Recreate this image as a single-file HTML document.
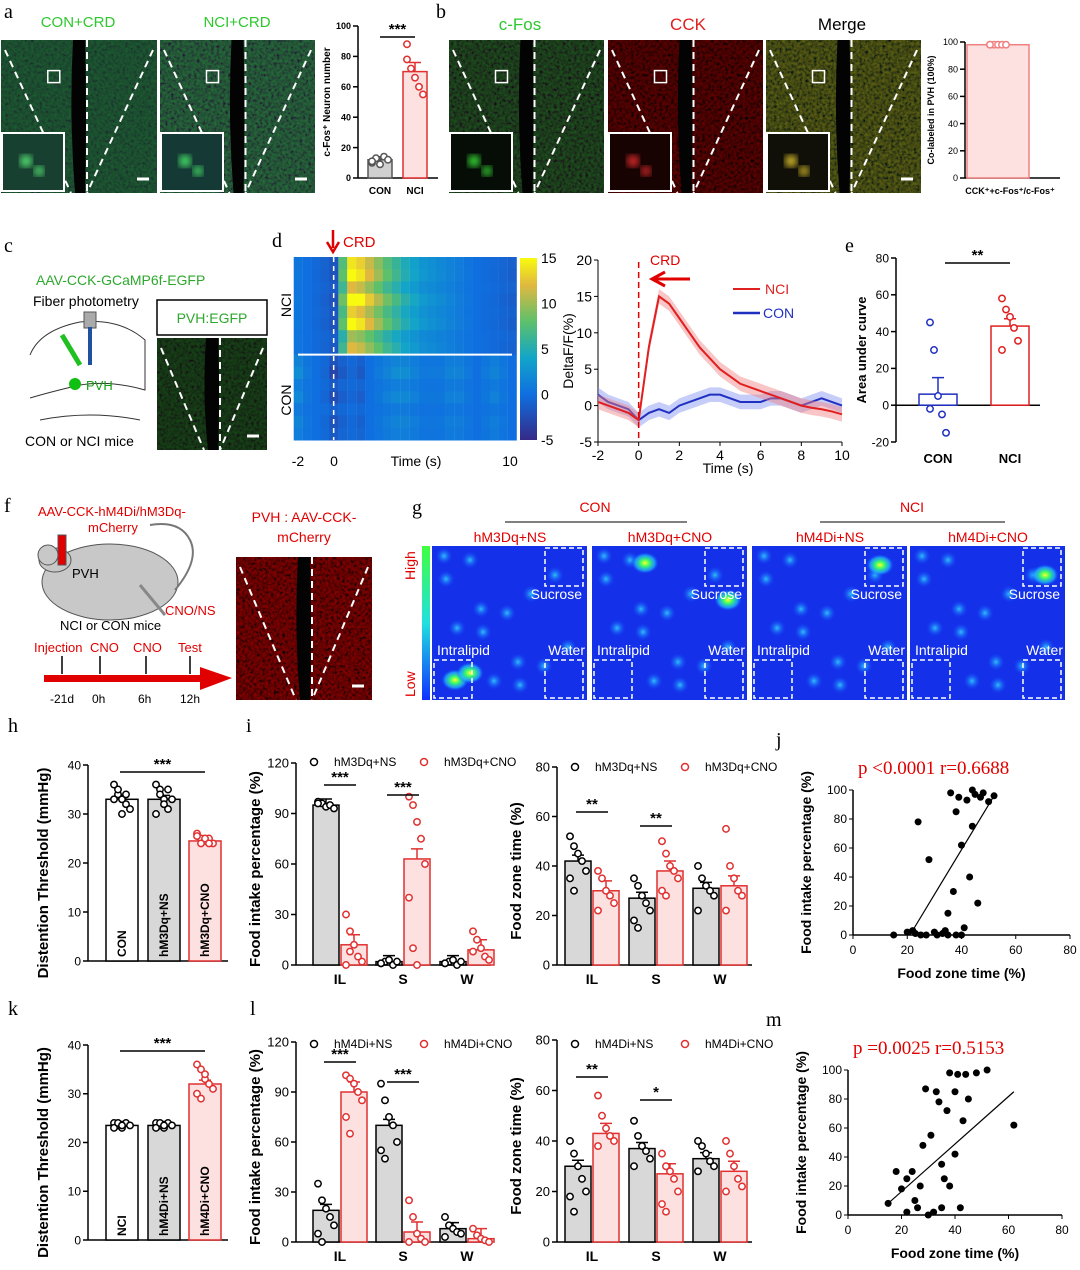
<!DOCTYPE html>
<html><head><meta charset="utf-8"><style>
html,body{margin:0;padding:0;background:#fff;}
svg{display:block;font-family:"Liberation Sans",sans-serif;}
.pl{font-family:"Liberation Serif",serif;font-size:20px;fill:#000;}
</style></head><body>
<svg id="fig" width="1080" height="1270" viewBox="0 0 1080 1270" xmlns="http://www.w3.org/2000/svg">
<defs>
<filter id="nG" x="0" y="0" width="1" height="1"><feTurbulence type="fractalNoise" baseFrequency="0.35" numOctaves="2" seed="3"/><feColorMatrix values="0 0 0 0 0.05  0 0 0 0.9 -0.2  0 0 0 0 0.05  0 0 0 0 1"/></filter>
<filter id="nR" x="0" y="0" width="1" height="1"><feTurbulence type="fractalNoise" baseFrequency="0.35" numOctaves="2" seed="5"/><feColorMatrix values="0 0 0 1.0 -0.25  0 0 0 0 0  0 0 0 0 0  0 0 0 0 1"/></filter>
<filter id="nY" x="0" y="0" width="1" height="1"><feTurbulence type="fractalNoise" baseFrequency="0.35" numOctaves="2" seed="7"/><feColorMatrix values="0 0 0 0.9 -0.2  0 0 0 0.9 -0.15  0 0 0 0 0.02  0 0 0 0 1"/></filter>
<filter id="blur4"><feGaussianBlur stdDeviation="4"/></filter>
<radialGradient id="blob"><stop offset="0" stop-color="#ffff30"/><stop offset="0.3" stop-color="#40ff60"/><stop offset="0.7" stop-color="#20c0ff" stop-opacity="0.7"/><stop offset="1" stop-color="#1040ff" stop-opacity="0"/></radialGradient>
<radialGradient id="blobs"><stop offset="0" stop-color="#30d0ff" stop-opacity="0.9"/><stop offset="1" stop-color="#1040ff" stop-opacity="0"/></radialGradient>
<linearGradient id="cbd" x1="0" y1="1" x2="0" y2="0"><stop offset="0" stop-color="#352a87"/><stop offset="0.25" stop-color="#0f6fe0"/><stop offset="0.45" stop-color="#12a5c9"/><stop offset="0.65" stop-color="#5dc06b"/><stop offset="0.85" stop-color="#e0b840"/><stop offset="1" stop-color="#f9fb0e"/></linearGradient>
<linearGradient id="cbg" x1="0" y1="1" x2="0" y2="0"><stop offset="0" stop-color="#1030ff"/><stop offset="0.5" stop-color="#20e0e0"/><stop offset="1" stop-color="#40ff40"/></linearGradient>
</defs>

<text class="pl" x="4" y="18">a</text>
<text x="78" y="27" font-size="15" fill="#2ec82e" text-anchor="middle">CON+CRD</text>
<text x="237" y="27" font-size="15" fill="#2ec82e" text-anchor="middle">NCI+CRD</text>
<g id="micro"></g>
<text class="pl" x="436" y="18">b</text>
<text x="520" y="30" font-size="17" fill="#2ec82e" text-anchor="middle">c-Fos</text>
<text x="688" y="30" font-size="17" fill="#e02020" text-anchor="middle">CCK</text>
<text x="842" y="30" font-size="17" fill="#000" text-anchor="middle">Merge</text>

<text class="pl" x="4" y="252">c</text>
<text x="36" y="285" font-size="14" fill="#2ea82e">AAV-CCK-GCaMP6f-EGFP</text>
<text x="33" y="306" font-size="14" fill="#000">Fiber photometry</text>
<g>
<path d="M30,355 Q40,330 80,322 Q120,318 145,340 L145,390 Q110,380 80,385 Q50,392 30,398" fill="none" stroke="#333" stroke-width="1"/>
<rect x="84" y="312" width="12" height="16" fill="#aaa" stroke="#555"/>
<rect x="88" y="327" width="4" height="38" fill="#2050a0"/>
<line x1="62" y1="335" x2="80" y2="365" stroke="#20c020" stroke-width="5"/>
<circle cx="75" cy="384" r="6" fill="#10c010"/>
<text x="86" y="390" font-size="13" fill="#10a010">PVH</text>
<path d="M40,420 Q90,410 140,420" fill="none" stroke="#333"/>
</g>
<text x="25" y="446" font-size="14" fill="#000">CON or NCI mice</text>
<rect x="157" y="300" width="110" height="35" fill="#fff" stroke="#000" stroke-width="1.5"/>
<text x="212" y="323" font-size="14" fill="#2ea82e" text-anchor="middle">PVH:EGFP</text>

<text class="pl" x="272" y="247">d</text>
<path d="M333,230 L333,248 M327,242 L333,252 L339,242" stroke="#e00000" stroke-width="2.5" fill="none"/>
<text x="343" y="247" font-size="15" fill="#e00000">CRD</text>
<g id="heat"></g>
<g id="line"></g>
<text class="pl" x="845" y="252">e</text>
<g id="chE"></g>

<text class="pl" x="4" y="512">f</text>
<text x="38" y="516" font-size="13" fill="#e00000">AAV-CCK-hM4Di/hM3Dq-</text>
<text x="88" y="532" font-size="13" fill="#e00000">mCherry</text>
<g>
<ellipse cx="110" cy="582" rx="68" ry="38" fill="#c8c8c8" stroke="#555"/>
<ellipse cx="55" cy="560" rx="16" ry="12" fill="#c8c8c8" stroke="#555"/>
<circle cx="48" cy="555" r="10" fill="#c8c8c8" stroke="#555"/>
<rect x="58" y="535" width="8" height="30" fill="#e00000" stroke="#555"/>
<path d="M175,590 Q200,560 190,540 Q180,520 150,525" fill="none" stroke="#777" stroke-width="2"/>
<line x1="140" y1="585" x2="165" y2="615" stroke="#888" stroke-width="3"/>
<text x="72" y="578" font-size="13">PVH</text>
</g>
<text x="165" y="615" font-size="13" fill="#e00000">CNO/NS</text>
<text x="60" y="630" font-size="13" fill="#000">NCI or CON mice</text>
<g>
<rect x="44" y="675" width="160" height="7" fill="#e00000"/>
<polygon points="200,667 232,678 200,690" fill="#e00000"/>
<text x="34" y="652" font-size="13" fill="#e00000">Injection</text>
<text x="90" y="652" font-size="13" fill="#e00000">CNO</text>
<text x="133" y="652" font-size="13" fill="#e00000">CNO</text>
<text x="178" y="652" font-size="13" fill="#e00000">Test</text>
<path d="M62,656 v18 M100,656 v18 M146,656 v18 M190,656 v18" stroke="#000" stroke-width="1.5"/>
<text x="50" y="703" font-size="12">-21d</text><text x="92" y="703" font-size="12">0h</text>
<text x="138" y="703" font-size="12">6h</text><text x="180" y="703" font-size="12">12h</text>
</g>
<text x="304" y="522" font-size="14" fill="#e00000" text-anchor="middle">PVH : AAV-CCK-</text>
<text x="304" y="542" font-size="14" fill="#e00000" text-anchor="middle">mCherry</text>

<text class="pl" x="412" y="514">g</text>
<text x="595" y="512" font-size="14" fill="#e00000" text-anchor="middle">CON</text>
<line x1="505" y1="522" x2="687" y2="522" stroke="#000"/>
<text x="912" y="512" font-size="14" fill="#e00000" text-anchor="middle">NCI</text>
<line x1="820" y1="522" x2="1005" y2="522" stroke="#000"/>
<rect x="422" y="546" width="8" height="154" fill="url(#cbg)"/>
<text transform="translate(415,580) rotate(-90)" font-size="14" fill="#e00000">High</text>
<text transform="translate(415,697) rotate(-90)" font-size="14" fill="#e00000">Low</text>
<g id="occ"></g>

<text class="pl" x="8" y="732">h</text>
<text class="pl" x="246" y="732">i</text>
<text class="pl" x="776" y="746">j</text>
<text class="pl" x="8" y="1015">k</text>
<text class="pl" x="250" y="1015">l</text>
<text class="pl" x="766" y="1026">m</text>
<g id="charts"></g>
</svg>

<script>
const aCats = ['CON','NCI'];
const aVals = [12, 70];
const aErr = [2, 6];
const aPts = [[10,13,9,14,12,11],[88,72,66,60,55,78]];
const bVals = [98];
const bPts = [[98,98,98,98,98,98]];
const eCats = ['CON','NCI'];
const eVals = [6, 43];
const eErr = [9, 4];
const ePts = [[45,30,5,-5,-15,-2],[58,52,48,42,35,30]];
const traceT = [-2,-1.5,-1,-0.5,0,0.5,1,1.5,2,2.5,3,3.5,4,4.5,5,5.5,6,6.5,7,7.5,8,8.5,9,9.5,10];
const nciMean = [0.5,0,-0.5,-1,-2,8,15,14,12,10,8,6.5,5,4,3,2.5,2,1.5,1,0.5,0,-0.3,-0.5,-0.8,-1.2];
const conMean = [1.5,0.5,0,-0.5,-2,-1,-0.5,-1,0,0.5,1,1.5,1.5,1,0.5,0.5,0.5,1,1,0.5,0,0.5,1,0.5,0];
const nciRowPeak = [14,15,12,16,13,15,10,12];
const conRowDip = [-2,-3,-1.5,-2.5,-1,-2,-1.5];
const hCats = ['CON','hM3Dq+NS','hM3Dq+CNO'];
const hVals = [33, 33, 24.5];
const hPts = [[36,34,33,32,31,33,35,30,34],[36,35,33,31,33,30,34,32,35],[26,25,24.5,25,24,25.5,24,25,24]];
const kCats = ['NCI','hM4Di+NS','hM4Di+CNO'];
const kVals = [23.5, 23.5, 32];
const kPts = [[24,23.5,23,24,23.5,23,24,23.5],[24,23.5,23,24,23.5,23,24,23.5],[36,35,33,32,31,30,29,34]];
const groups = ['IL','S','W'];
const iIntakeNS = [95, 2, 2];
const iIntakeCNO = [12, 63, 9];
const iZoneNS = [42, 27, 31];
const iZoneCNO = [30, 38, 32];
const lIntakeNS = [19, 70, 8];
const lIntakeCNO = [90, 6, 2];
const lZoneNS = [30, 37, 33];
const lZoneCNO = [43, 27, 28];
const iIntakePtsNS = [[97,96,94,95,93,96],[1,2,3,0,2,1],[1,2,3,0,2,1]];
const iIntakePtsCNO = [[30,20,12,5,2,0,8],[100,95,85,75,60,40,10,0],[20,15,10,5,3,8]];
const iZonePtsNS = [[52,48,45,42,38,35,30],[35,32,28,25,22,18,15],[40,35,32,30,28,22]];
const iZonePtsCNO = [[38,35,30,28,25,22],[50,45,40,38,35,30,28],[55,40,35,30,28,22]];
const lIntakePtsNS = [[35,25,20,15,10,5,0],[95,85,75,70,60,55,50],[15,10,8,6,5,3]];
const lIntakePtsCNO = [[100,98,95,90,85,75,65],[25,15,5,2,0,0],[8,4,2,1,0]];
const lZonePtsNS = [[40,35,30,25,20,18,12],[48,42,38,36,33,30],[40,38,35,32,30,28]];
const lZonePtsCNO = [[58,50,45,42,40,38],[35,30,28,25,20,15,12],[40,35,30,25,22,20]];
const jX = [15,20,22,23,25,24,27,28,30,31,33,34,35,36,37,38,39,40,41,42,43,44,45,46,47,48,50,52,44,40,38,35];
const jY = [0,2,3,1,0,78,0,52,2,0,1,3,15,98,30,85,95,62,5,93,40,100,97,22,95,98,92,96,75,0,0,0];
const jFitX = [21, 52];
const jFitY = [0, 96];
const mX = [15,18,20,22,24,25,27,28,29,30,31,32,33,34,35,35,36,37,38,38,40,40,41,42,43,44,45,48,52,62,22,26];
const mY = [8,30,18,2,30,10,20,48,87,0,55,2,85,78,5,35,25,72,20,98,42,85,97,5,65,97,80,98,100,62,25,5];
const mFitX = [15, 62];
const mFitY = [8, 85];

const NS='http://www.w3.org/2000/svg';
function mk(tag, attrs, parent){const e=document.createElementNS(NS,tag);for(const k in attrs)e.setAttribute(k,attrs[k]);parent.appendChild(e);return e;}
function txt(s, attrs, parent){const e=mk('text',attrs,parent);e.textContent=s;return e;}
function lin(v0,v1,p0,p1){return v=>p0+(v-v0)/(v1-v0)*(p1-p0);}

function yAxis(g, x, sy, ticks, fs, bold){
  const a=mk('line',{x1:x,y1:sy(ticks[ticks.length-1]),x2:x,y2:sy(ticks[0]),stroke:'#000','stroke-width':1.5},g);
  
  
  ticks.forEach(t=>{mk('line',{x1:x-5,y1:sy(t),x2:x,y2:sy(t),stroke:'#000','stroke-width':1.5},g);
    const l=txt(String(t),{x:x-7,y:sy(t)+fs*0.36,'font-size':fs,'text-anchor':'end','font-weight':bold?'bold':'normal'},g);
    
    });
}
function yTitle(g, s, x, y, fs){const t=txt(s,{transform:`translate(${x},${y}) rotate(-90)`,'font-size':fs,'text-anchor':'middle','font-weight':'bold'},g);
  
  }
function drawBar(g, cx, w, val, sy, fill, stroke, name){
  const y0=sy(0), y1=sy(val);
  const r=mk('rect',{x:cx-w/2,y:Math.min(y0,y1),width:w,height:Math.abs(y0-y1),fill:fill,stroke:stroke,'stroke-width':1.5},g);
  
  
}
function drawErr(g, cx, val, err, sy, col){
  mk('path',{d:`M${cx},${sy(val)} V${sy(val+err)} M${cx-6},${sy(val+err)} H${cx+6}`,stroke:col,'stroke-width':1.5,fill:'none'},g);
}
function drawPts(g, cx, pts, sy, col, filled){
  pts.forEach((p,i)=>{const dx=((i%5)-2)*4;
    const c=mk('circle',{cx:cx+dx,cy:sy(p),r:3.2,fill:filled?col:'#fff',stroke:col,'stroke-width':1.5},g);
    
    });
}
function sig(g, x1, x2, y, s){mk('line',{x1:x1,y1:y,x2:x2,y2:y,stroke:'#000','stroke-width':1.5},g);
  const t=txt(s,{x:(x1+x2)/2,y:y-3,'font-size':15,'text-anchor':'middle','font-weight':'bold'},g);
  
  }

const micro=document.getElementById('micro');
function micrograph(x,y,w,h,filt,bg,op,inset,dot,scale){
  const g=mk('g',{},micro);
  
  
  mk('rect',{x:x,y:y,width:w,height:h,fill:bg},g);
  mk('rect',{x:x,y:y,width:w,height:h,filter:`url(#${filt})`,opacity:op},g);
  mk('path',{d:`M${x+w*0.5-6},${y} Q${x+w*0.5-10},${y+h*0.5} ${x+w*0.5-4},${y+h} L${x+w*0.5+6},${y+h} Q${x+w*0.5+8},${y+h*0.5} ${x+w*0.5+6},${y} Z`,fill:'#030303'},g);
  mk('path',{d:`M${x+4},${y+10} L${x+w*0.5-8},${y+h} M${x+w-4},${y+10} L${x+w*0.5+8},${y+h} M${x+w*0.5+8},${y} V${y+h}`,stroke:'#fff','stroke-width':2,'stroke-dasharray':'7,5',fill:'none'},g);
  if(inset){mk('rect',{x:x+1,y:y+h-60,width:62,height:58,fill:inset,stroke:'#fff','stroke-width':2},g);
    mk('circle',{cx:x+25,cy:y+h-32,r:6,fill:dot,opacity:0.9,filter:'url(#blur4)'},g);
    mk('circle',{cx:x+38,cy:y+h-22,r:5,fill:dot,opacity:0.9,filter:'url(#blur4)'},g);
    mk('rect',{x:x+w*0.3,y:y+h*0.2,width:12,height:12,fill:'none',stroke:'#fff','stroke-width':1.5},g);}
  if(scale) mk('line',{x1:x+w-20,y1:y+h-14,x2:x+w-8,y2:y+h-14,stroke:'#fff','stroke-width':3},g);
}
micrograph(1,40,156,153,'nG','#103a2a',0.25,'#184030','#60ff80',true);
micrograph(160,40,155,153,'nG','#0c2a30',0.45,'#153a35','#50ff70',true);
micrograph(449,40,155,153,'nG','#030803',0.4,'#060d06','#40ff40',false);
micrograph(608,40,155,153,'nR','#100202',0.45,'#180303','#ff3030',false);
micrograph(766,40,155,153,'nY','#0a0a02',0.45,'#101008','#ffdd30',true);
micrograph(157,338,110,112,'nG','#041004',0.3,null,null,true);
micrograph(236,557,136,143,'nR','#300303',0.6,null,null,true);

const C=document.getElementById('charts');
(function(){const g=mk('g',{},C);
  
  
  const sy=lin(0,100,178,26); yAxis(g,358,sy,[0,20,40,60,80,100],9,true);
  yTitle(g,'c-Fos⁺ Neuron number',330,102,10);
  mk('line',{x1:358,y1:178,x2:438,y2:178,stroke:'#000','stroke-width':1.5},g);
  const xs=[380,415], fills=['#d0d0d0','#fde0e0'], strokes=['#555','#e03030'];
  aVals.forEach((v,i)=>{drawBar(g,xs[i],24,v,sy,fills[i],strokes[i],'bar-'+aCats[i].toLowerCase());drawErr(g,xs[i],v,aErr[i],sy,strokes[i]);drawPts(g,xs[i],aPts[i],sy,strokes[i],false);
    txt(aCats[i],{x:xs[i],y:194,'font-size':10,'font-weight':'bold','text-anchor':'middle'},g);});
  sig(g,380,415,37,'***');})();
(function(){const g=mk('g',{},C);
  
  
  const sy=lin(0,100,178,42); yAxis(g,965,sy,[0,20,40,60,80,100],9,false);
  yTitle(g,'Co-labeled in PVH (100%)',934,110,9);
  mk('line',{x1:965,y1:178,x2:1060,y2:178,stroke:'#000','stroke-width':1.5},g);
  drawBar(g,998,62,bVals[0],sy,'#fde0e0','#f08080','bar-colabel');drawPts(g,998,bPts[0],sy,'#f08080',false);
  txt('CCK⁺+c-Fos⁺/c-Fos⁺',{x:1010,y:194,'font-size':9,'font-weight':'bold','text-anchor':'middle'},g);})();
(function(){const g=document.getElementById('chE');
  const sy=lin(-20,80,442,258); yAxis(g,896,sy,[-20,0,20,40,60,80],12,false);
  yTitle(g,'Area under curve',866,350,13);
  mk('line',{x1:896,y1:sy(0),x2:1040,y2:sy(0),stroke:'#000','stroke-width':1.5},g);
  const xs=[938,1010], cols=['#2030c0','#e02020'];
  eVals.forEach((v,i)=>{drawBar(g,xs[i],38,v,sy,'#fff',cols[i],'bar-'+eCats[i].toLowerCase());drawErr(g,xs[i],v,eErr[i],sy,cols[i]);drawPts(g,xs[i],ePts[i],sy,cols[i],false);
    txt(eCats[i],{x:xs[i],y:463,'font-size':13,'font-weight':'bold','text-anchor':'middle'},g);});
  sig(g,945,1010,263,'**');})();
function parula(v){const t=Math.max(0,Math.min(1,(v+5)/20));
  const st=[[0,[53,42,135]],[0.25,[15,111,224]],[0.45,[18,165,201]],[0.65,[93,192,107]],[0.85,[224,184,64]],[1,[249,251,14]]];
  for(let i=1;i<st.length;i++){if(t<=st[i][0]){const f=(t-st[i-1][0])/(st[i][0]-st[i-1][0]);const a=st[i-1][1],b=st[i][1];return `rgb(${a.map((c,k)=>Math.round(c+(b[k]-c)*f)).join(',')})`;}}return 'rgb(249,251,14)';}
(function(){const g=document.getElementById('heat');
  const sx=lin(-2,10,298,512);const cw=(512-298)/traceT.length;
  const nRows=nciRowPeak.length, cRows=conRowDip.length, rh=(440-257)/(nRows+cRows);
  nciRowPeak.forEach((pk,r)=>traceT.forEach((t,j)=>{
    const v=nciMean[j]/15*pk;
    const c=mk('rect',{x:sx(t)-cw/2,y:257+r*rh,width:cw+0.5,height:rh+0.5,fill:parula(v)},g);
    
    }));
  conRowDip.forEach((dp,r)=>traceT.forEach((t,j)=>{
    const v=conMean[j]*(-dp/2);
    const c=mk('rect',{x:sx(t)-cw/2,y:257+(nRows+r)*rh,width:cw+0.5,height:rh+0.5,fill:parula(v)},g);
    
    }));
  mk('line',{x1:298,y1:257+nRows*rh,x2:512,y2:257+nRows*rh,stroke:'#fff','stroke-width':2},g);
  mk('line',{x1:sx(0),y1:257,x2:sx(0),y2:440,stroke:'#fff','stroke-width':1.5,'stroke-dasharray':'5,4'},g);
  txt('NCI',{transform:'translate(291,305) rotate(-90)','font-size':14,'text-anchor':'middle'},g);
  txt('CON',{transform:'translate(291,400) rotate(-90)','font-size':14,'text-anchor':'middle'},g);
  [['-2',298],['0',334],['Time (s)',416],['10',510]].forEach(p=>txt(p[0],{x:p[1],y:466,'font-size':14,'text-anchor':'middle'},g));
  mk('rect',{x:520,y:258,width:17,height:182,fill:'url(#cbd)'},g);
  const cy=lin(-5,15,440,258);
  [15,10,5,0,-5].forEach(v=>txt(String(v),{x:541,y:cy(v)+5,'font-size':14},g));})();
(function(){const g=document.getElementById('line');
  const sx=lin(-2,10,598,842), sy=lin(-5,20,442,260);
  mk('line',{x1:598,y1:260,x2:598,y2:442,stroke:'#000'},g);
  mk('line',{x1:598,y1:442,x2:842,y2:442,stroke:'#000'},g);
  [-5,0,5,10,15,20].forEach(v=>{mk('line',{x1:594,y1:sy(v),x2:598,y2:sy(v),stroke:'#000'},g);txt(String(v),{x:592,y:sy(v)+5,'font-size':14,'text-anchor':'end'},g);});
  [-2,0,2,4,6,8,10].forEach(v=>{mk('line',{x1:sx(v),y1:442,x2:sx(v),y2:446,stroke:'#000'},g);txt(String(v),{x:sx(v),y:460,'font-size':14,'text-anchor':'middle'},g);});
  txt('Time (s)',{x:728,y:473,'font-size':14,'text-anchor':'middle'},g);
  txt('DeltaF/F(%)',{transform:'translate(573,351) rotate(-90)','font-size':14,'text-anchor':'middle'},g);
  function band(arr,col,fill,name){
    const up=traceT.map((t,i)=>`${sx(t)},${sy(arr[i]+1)}`), dn=traceT.map((t,i)=>`${sx(t)},${sy(arr[i]-1)}`).reverse();
    mk('polygon',{points:up.concat(dn).join(' '),fill:fill,opacity:0.45},g);
    const p=mk('polyline',{points:traceT.map((t,i)=>`${sx(t)},${sy(arr[i])}`).join(' '),fill:'none',stroke:col,'stroke-width':2},g);
    
    }
  band(conMean,'#2030c0','#8090f0','con-trace');
  band(nciMean,'#e02020','#f08080','nci-trace');
  mk('line',{x1:sx(0),y1:262,x2:sx(0),y2:442,stroke:'#e00000','stroke-width':1.5,'stroke-dasharray':'6,4'},g);
  txt('CRD',{x:650,y:265,'font-size':14,fill:'#e00000'},g);
  mk('path',{d:'M690,279 H655 M665,272 L652,279 L665,286',stroke:'#e00000','stroke-width':3,fill:'none'},g);
  mk('line',{x1:733,y1:289,x2:760,y2:289,stroke:'#e02020','stroke-width':2},g);txt('NCI',{x:765,y:294,'font-size':14,fill:'#e02020'},g);
  mk('line',{x1:733,y1:313,x2:760,y2:313,stroke:'#2030c0','stroke-width':2.5},g);txt('CON',{x:763,y:318,'font-size':14,fill:'#2030c0'},g);})();
(function(){const g=document.getElementById('occ');
  const xs=[432,592,752,910], titles=['hM3Dq+NS','hM3Dq+CNO','hM4Di+NS','hM4Di+CNO'];
  const hot=[[[455,680],[470,673]],[[645,563],[728,600]],[[880,565]],[[1045,575]]];
  xs.forEach((x,k)=>{mk('rect',{x:x,y:546,width:155,height:154,fill:'#1430e8'},g);
    for(let i=0;i<14;i++){mk('circle',{cx:x+12+((i*37)%135),cy:556+((i*53)%140),r:9,fill:'url(#blobs)'},g);}
    hot[k].forEach(h=>{const b=mk('ellipse',{cx:h[0],cy:h[1],rx:14,ry:11,fill:'url(#blob)'},g);
      
      });
    [[x+113,548],[x+113,660],[x+2,660]].forEach(p=>mk('rect',{x:p[0],y:p[1],width:38,height:38,fill:'none',stroke:'#fff','stroke-width':1.5,'stroke-dasharray':'5,3'},g));
    txt('Sucrose',{x:x+150,y:599,'font-size':14,fill:'#fff','text-anchor':'end'},g);
    txt('Water',{x:x+153,y:655,'font-size':14,fill:'#fff','text-anchor':'end'},g);
    txt('Intralipid',{x:x+5,y:655,'font-size':14,fill:'#fff'},g);
    txt(titles[k],{x:x+78,y:542,'font-size':14,fill:'#e00000','text-anchor':'middle'},g);});})();
function threshChart(cats,vals,pts,top,bot,sigY,name){const g=mk('g',{},C);
  
  
  const sy=lin(0,40,bot,top); yAxis(g,88,sy,[0,10,20,30,40],12,false);
  yTitle(g,'Distention Threshold (mmHg)',48,(top+bot)/2+10,15);
  mk('line',{x1:88,y1:bot,x2:228,y2:bot,stroke:'#000','stroke-width':1.5},g);
  const xs=[122,164,205], fills=['#fff','#d8d8d8','#fde0e0'], st=['#000','#000','#e03030'];
  vals.forEach((v,i)=>{drawBar(g,xs[i],32,v,sy,fills[i],st[i],'bar-'+cats[i].toLowerCase().replace('+','-'));drawErr(g,xs[i],v,0.8,sy,st[i]);drawPts(g,xs[i],pts[i],sy,st[i],false);
    txt(cats[i],{transform:`translate(${xs[i]+4},${bot-4}) rotate(-90)`,'font-size':12,'font-weight':'bold'},g);});
  sig(g,120,205,sigY,'***');}
threshChart(hCats,hVals,hPts,765,961,772,'threshold-chart-h');
threshChart(kCats,kVals,kPts,1045,1240,1051,'threshold-chart-k');
function grouped(x0,top,bot,max,ticks,title,ns,cno,ptsNS,ptsCNO,gx,legY,legA,legB,sigs,name){const g=mk('g',{},C);
  
  
  const sy=lin(0,max,bot,top); yAxis(g,x0,sy,ticks,13,false);
  yTitle(g,title,x0-36,(top+bot)/2+5,15);
  mk('line',{x1:x0,y1:bot,x2:x0+195,y2:bot,stroke:'#000','stroke-width':1.5},g);
  groups.forEach((gr,i)=>{const c=gx[i];
    drawBar(g,c-14,26,ns[i],sy,'#d8d8d8','#000','bar-ns-'+gr.toLowerCase());drawErr(g,c-14,ns[i],max*0.03,sy,'#000');drawPts(g,c-14,ptsNS[i],sy,'#000',false);
    drawBar(g,c+14,26,cno[i],sy,'#fde0e0','#e03030','bar-cno-'+gr.toLowerCase());drawErr(g,c+14,cno[i],max*0.05,sy,'#e03030');drawPts(g,c+14,ptsCNO[i],sy,'#e03030',false);
    txt(gr,{x:c,y:bot+19,'font-size':14,'font-weight':'bold','text-anchor':'middle'},g);});
  mk('circle',{cx:x0+18,cy:legY-4,r:3.5,fill:'#fff',stroke:'#000','stroke-width':1.5},g);
  txt(legA,{x:x0+38,y:legY,'font-size':12},g);
  mk('circle',{cx:x0+128,cy:legY-4,r:3.5,fill:'#fff',stroke:'#e03030','stroke-width':1.5},g);
  txt(legB,{x:x0+148,y:legY,'font-size':12},g);
  sigs.forEach(s=>sig(g,gx[s[0]]-16,gx[s[0]]+16,s[1],s[2]));}
grouped(296,763,965,120,[0,30,60,90,120],'Food intake percentage (%)',iIntakeNS,iIntakeCNO,iIntakePtsNS,iIntakePtsCNO,[340,403,467],766,'hM3Dq+NS','hM3Dq+CNO',[[0,785,'***'],[1,795,'***']],'intake-chart-i');
grouped(557,767,965,80,[0,20,40,60,80],'Food zone time (%)',iZoneNS,iZoneCNO,iZonePtsNS,iZonePtsCNO,[592,656,720],771,'hM3Dq+NS','hM3Dq+CNO',[[0,812,'**'],[1,826,'**']],'zone-chart-i');
grouped(296,1042,1242,120,[0,30,60,90,120],'Food intake percentage (%)',lIntakeNS,lIntakeCNO,lIntakePtsNS,lIntakePtsCNO,[340,403,467],1048,'hM4Di+NS','hM4Di+CNO',[[0,1062,'***'],[1,1082,'***']],'intake-chart-l');
grouped(557,1040,1242,80,[0,20,40,60,80],'Food zone time (%)',lZoneNS,lZoneCNO,lZonePtsNS,lZonePtsCNO,[592,656,720],1048,'hM4Di+NS','hM4Di+CNO',[[0,1077,'**'],[1,1100,'*']],'zone-chart-l');
function scatter(xs,ys,fx,fy,x0,x80,y0,y100,ptxt,name){const g=mk('g',{},C);
  
  
  const sx=lin(0,80,x0,x80), sy=lin(0,100,y0,y100);
  mk('line',{x1:x0,y1:y100,x2:x0,y2:y0,stroke:'#000','stroke-width':1.5},g);
  mk('line',{x1:x0,y1:y0,x2:x80,y2:y0,stroke:'#000','stroke-width':1.5},g);
  [0,20,40,60,80,100].forEach(v=>{mk('line',{x1:x0-4,y1:sy(v),x2:x0,y2:sy(v),stroke:'#000'},g);txt(String(v),{x:x0-6,y:sy(v)+4,'font-size':12,'text-anchor':'end'},g);});
  [0,20,40,60,80].forEach(v=>{mk('line',{x1:sx(v),y1:y0,x2:sx(v),y2:y0+4,stroke:'#000'},g);txt(String(v),{x:sx(v),y:y0+19,'font-size':12,'text-anchor':'middle'},g);});
  txt('Food zone time (%)',{x:(x0+x80)/2,y:y0+43,'font-size':14,'font-weight':'bold','text-anchor':'middle'},g);
  txt('Food intake percentage (%)',{transform:`translate(${x0-42},${(y0+y100)/2}) rotate(-90)`,'font-size':14,'font-weight':'bold','text-anchor':'middle'},g);
  xs.forEach((x,i)=>{const c=mk('circle',{cx:sx(x),cy:sy(ys[i]),r:3.5,fill:'#000'},g);
    
    });
  const f=mk('line',{x1:sx(fx[0]),y1:sy(fy[0]),x2:sx(fx[1]),y2:sy(fy[1]),stroke:'#000','stroke-width':1.2},g);
  
  
  const t=txt(ptxt,{x:x0+5,y:y100-16,'font-size':19,fill:'#e00000','font-family':'Liberation Serif, serif'},g);
  
  }
scatter(jX,jY,jFitX,jFitY,853,1070,935,790,'p <0.0001  r=0.6688','scatter-j');
scatter(mX,mY,mFitX,mFitY,848,1062,1215,1070,'p =0.0025  r=0.5153','scatter-m');
</script>
</body></html>
